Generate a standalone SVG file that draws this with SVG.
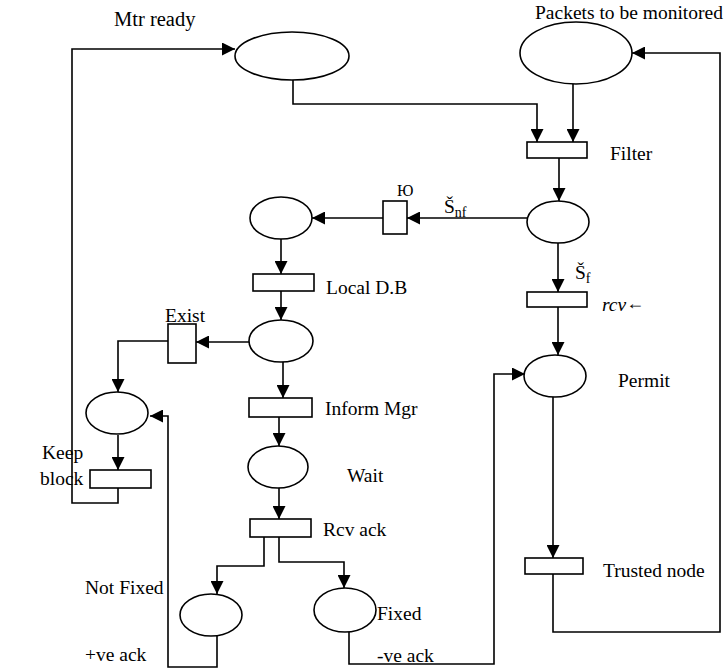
<svg xmlns="http://www.w3.org/2000/svg" width="726" height="669" viewBox="0 0 726 669" font-family="'Liberation Serif', 'DejaVu Serif', serif">
<style>
.p{fill:#fff;stroke:#000;stroke-width:1.6}
.t{fill:#fff;stroke:#000;stroke-width:1.6}
.c{fill:none;stroke:#000;stroke-width:1.6}
text{font-family:'Liberation Serif','DejaVu Serif',serif;font-size:19.5px;fill:#000}
</style>
<defs>
<marker id="ah" viewBox="0 0 10 10" refX="10" refY="5" markerWidth="14" markerHeight="13" markerUnits="userSpaceOnUse" orient="auto"><path d="M0,0 L10,5 L0,10 Z" fill="#000"/></marker>
</defs>
<rect width="726" height="669" fill="#fff"/>
<g id="connectors">
<path class="c" d="M118,488 V503 H72 V49 H235" marker-end="url(#ah)"/>
<path class="c" d="M293,80 V104 H537 V142" marker-end="url(#ah)"/>
<path class="c" d="M573,83 V142" marker-end="url(#ah)"/>
<path class="c" d="M553,574 V632 H720 V53 H632" marker-end="url(#ah)"/>
<path class="c" d="M559,158 V201" marker-end="url(#ah)"/>
<path class="c" d="M527,218 H407" marker-end="url(#ah)"/>
<path class="c" d="M383,218 H312" marker-end="url(#ah)"/>
<path class="c" d="M281,239 V274" marker-end="url(#ah)"/>
<path class="c" d="M281,291 V320" marker-end="url(#ah)"/>
<path class="c" d="M249,342 H196" marker-end="url(#ah)"/>
<path class="c" d="M168,341 H118 V392" marker-end="url(#ah)"/>
<path class="c" d="M118,435 V470" marker-end="url(#ah)"/>
<path class="c" d="M283,362 V398" marker-end="url(#ah)"/>
<path class="c" d="M279,417 V446" marker-end="url(#ah)"/>
<path class="c" d="M279,487 V519" marker-end="url(#ah)"/>
<path class="c" d="M264,537 V566 H217 V594" marker-end="url(#ah)"/>
<path class="c" d="M279,537 V562 H344 V588" marker-end="url(#ah)"/>
<path class="c" d="M217,636 V667 H168 V416 H150" marker-end="url(#ah)"/>
<path class="c" d="M349,632 V664 H494 V374 H525" marker-end="url(#ah)"/>
<path class="c" d="M558,243 V292" marker-end="url(#ah)"/>
<path class="c" d="M558,307 V355" marker-end="url(#ah)"/>
<path class="c" d="M553,397 V558" marker-end="url(#ah)"/>
</g>
<g id="mtr-ready"><ellipse class="p" cx="292" cy="56" rx="57" ry="24"/><text x="114" y="26" style="font-size:20.5px">Mtr ready</text></g>
<g id="packets"><ellipse class="p" cx="576" cy="53" rx="56" ry="31"/><text x="535" y="19">Packets to be monitored</text></g>
<g id="filter"><rect class="t" x="527" y="142" width="60" height="16"/><text x="610" y="160">Filter</text></g>
<g id="p-split"><ellipse class="p" cx="558" cy="222" rx="31" ry="21"/><text x="444" y="213">Š<tspan font-size="14" dy="4">nf</tspan></text><text x="575" y="279">Š<tspan font-size="14" dy="4">f</tspan></text></g>
<g id="io"><rect class="t" x="383" y="201" width="24" height="33"/><text x="397" y="196" style="font-size:16px">Ю</text></g>
<g id="p-local"><ellipse class="p" cx="281" cy="218" rx="31" ry="21"/></g>
<g id="local-db"><rect class="t" x="253" y="274" width="61" height="17"/><text x="326" y="294">Local D.B</text></g>
<g id="p-db"><ellipse class="p" cx="281" cy="341" rx="32" ry="21"/></g>
<g id="exist"><rect class="t" x="168" y="324" width="28" height="39"/><text x="165" y="322">Exist</text></g>
<g id="p-keep"><ellipse class="p" cx="117" cy="413" rx="31" ry="21"/></g>
<g id="keep-block"><rect class="t" x="90" y="470" width="61" height="18"/><text x="42" y="459">Keep</text><text x="40" y="485">block</text></g>
<g id="inform-mgr"><rect class="t" x="249" y="398" width="63" height="19"/><text x="325" y="415">Inform Mgr</text></g>
<g id="wait"><ellipse class="p" cx="278" cy="467" rx="30" ry="21"/><text x="347" y="482">Wait</text></g>
<g id="rcv-ack"><rect class="t" x="250" y="519" width="61" height="18"/><text x="323" y="536">Rcv ack</text></g>
<g id="not-fixed"><ellipse class="p" cx="211" cy="615" rx="31" ry="21"/><text x="85" y="594">Not Fixed</text><text x="85" y="661">+ve ack</text></g>
<g id="fixed"><ellipse class="p" cx="345" cy="610" rx="31" ry="22"/><text x="377" y="620">Fixed</text><text x="377" y="662">-ve ack</text></g>
<g id="rcv"><rect class="t" x="527" y="292" width="60" height="15"/><text x="602" y="311" style="font-style:italic">rcv<tspan font-style="normal" font-size="18" dy="-2">←</tspan></text></g>
<g id="permit"><ellipse class="p" cx="555" cy="376" rx="31" ry="21"/><text x="618" y="387">Permit</text></g>
<g id="trusted-node"><rect class="t" x="525" y="558" width="58" height="16"/><text x="603" y="577">Trusted node</text></g>
</svg>
